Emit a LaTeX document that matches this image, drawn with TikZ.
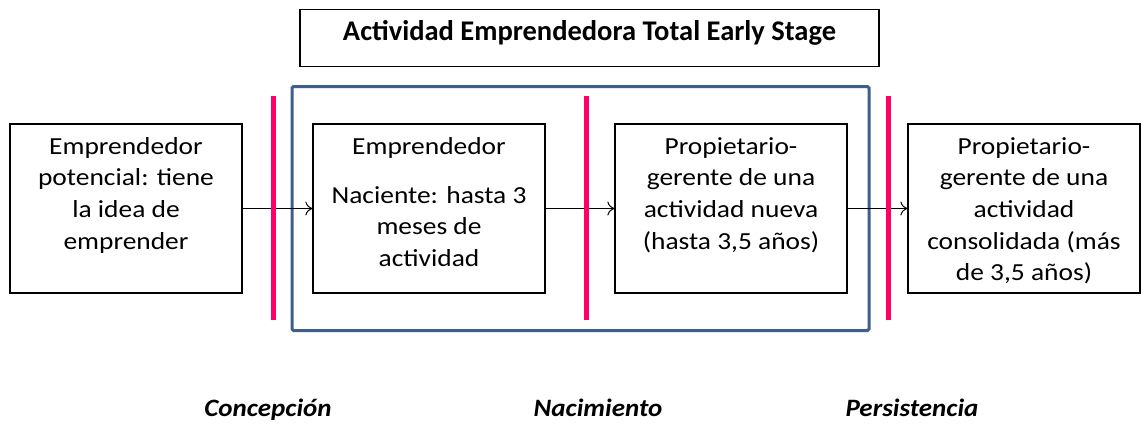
\documentclass[tikz,border=0pt]{standalone}
\usepackage{fontspec}
\setmainfont{Carlito}
\newfontfamily\bodyfont[FakeStretch=1.12]{Carlito}
\newfontfamily\phasefont[FakeStretch=1.08]{Carlito}
\usetikzlibrary{arrows.meta}
\definecolor{pinkline}{HTML}{FF0066}
\definecolor{bluebox}{HTML}{3D5F8C}
\begin{document}
\begin{tikzpicture}[x=1pt,y=-1pt,
  stagebox/.style={draw=black,line width=1.3pt,minimum width=232pt,minimum height=169pt,inner sep=0pt},
  stagetext/.style={anchor=north,align=center,inner sep=0pt,font=\bodyfont\fontsize{24.5}{31.7}\selectfont},
  divider/.style={draw=pinkline,line width=5pt},
  flow/.style={draw=black,line width=1pt,-{To[length=7pt,width=14pt]}},
  phase/.style={anchor=base,font=\phasefont\fontsize{25}{30}\selectfont\bfseries\itshape},
]
\useasboundingbox (0,0) rectangle (1142,424);
% title
\node[draw=black,line width=1.3pt,minimum width=579pt,minimum height=57pt,inner sep=0pt,
      text height=20pt,text depth=15.4pt,
      font=\fontsize{28.5}{32}\selectfont\bfseries] (title) at (589.5,38) {Actividad Emprendedora Total Early Stage};
% blue TEA frame
\node[draw=bluebox,line width=3pt,rounded corners=1.5pt,minimum width=577pt,minimum height=244pt,inner sep=0pt] (tea) at (580.5,208.5) {};
% boxes
\node[stagebox] (b1) at (126,208.5) {};
\node[stagebox] (b2) at (429,208.5) {};
\node[stagebox] (b3) at (731,208.5) {};
\node[stagebox] (b4) at (1024,208.5) {};
% texts
\node[stagetext] (t1) at (126,137) {Emprendedor\\potencial: tiene\\la idea de\\emprender};
\node[stagetext] (t2a) at (429,137) {Emprendedor};
\node[stagetext] (t2b) at (429,186) {Naciente: hasta 3\\meses de\\actividad};
\node[stagetext] (t3) at (731,137) {Propietario-\\gerente de una\\actividad nueva\\(hasta 3,5 años)};
\node[stagetext] (t4) at (1024,137) {Propietario-\\gerente de una\\actividad\\consolidada (más\\de 3,5 años)};
% arrows
\draw[flow] (b1.east) -- (b2.west);
\draw[flow] (b2.east) -- (b3.west);
\draw[flow] (b3.east) -- (b4.west);
% dividers
\coordinate (d1t) at (273,96); \coordinate (d1b) at (273,320);
\coordinate (d2t) at (586,96); \coordinate (d2b) at (586,320);
\coordinate (d3t) at (888,96); \coordinate (d3b) at (888,320);
\draw[divider] (d1t) -- (d1b);
\draw[divider] (d2t) -- (d2b);
\draw[divider] (d3t) -- (d3b);
% phases
\node[phase] (p1) at (268,416) {Concepción};
\node[phase] (p2) at (598,416) {Nacimiento};
\node[phase] (p3) at (912,416) {Persistencia};
\end{tikzpicture}
\end{document}
